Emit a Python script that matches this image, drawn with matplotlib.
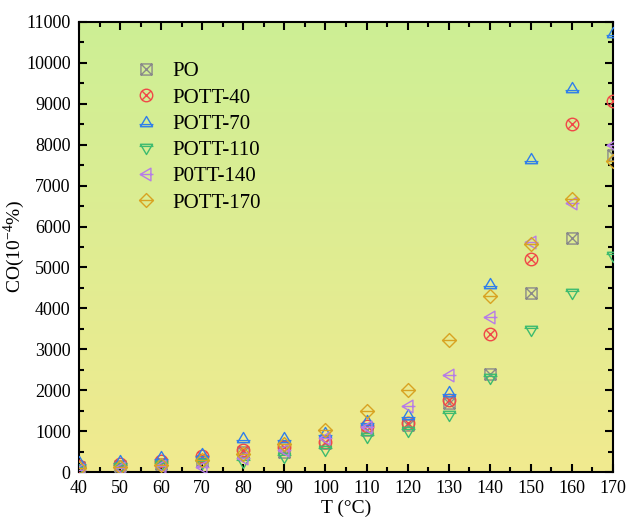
import numpy as np
import matplotlib
matplotlib.use("Agg")
import matplotlib.pyplot as plt
from matplotlib.path import Path
from matplotlib.colors import LinearSegmentedColormap
from matplotlib.ticker import MultipleLocator

# Temperature (°C) and CO concentration (10^-4 %)
temps = [40, 50, 60, 70, 80, 90, 100, 110, 120, 130, 140, 150, 160, 170]
co_po = [120, 150, 200, 280, 480, 500, 700, 1030, 1150, 1690, 2400, 4380, 5710, 7750]
co_pott40 = [150, 200, 280, 380, 540, 620, 740, 1130, 1200, 1760, 3380, 5210, 8510, 9060]
co_pott70 = [240, 270, 360, 450, 830, 830, 950, 1250, 1400, 1960, 4590, 7650, 9390, 10730]
co_pott110 = [80, 120, 180, 220, 240, 370, 540, 860, 1000, 1400, 2300, 3480, 4380, 5280]
co_pott140 = [60, 100, 150, 120, 340, 530, 820, 1100, 1620, 2360, 3800, 5620, 6580, 8000]
co_pott170 = [100, 120, 170, 290, 440, 680, 1030, 1490, 2000, 3220, 4310, 5570, 6680, 7600]

labels = ["PO", "POTT-40", "POTT-70", "POTT-110", "P0TT-140", "POTT-170"]
series = [co_po, co_pott40, co_pott70, co_pott110, co_pott140, co_pott170]
colors = ["#8a8a8a", "#f04848", "#2f7fea", "#3dbb6f", "#b77ce8", "#d8a322"]


def seg_path(polys, lines):
    verts, codes = [], []
    for poly in polys:
        verts += list(poly) + [poly[0]]
        codes += [Path.MOVETO] + [Path.LINETO] * (len(poly) - 1) + [Path.CLOSEPOLY]
    for a, b in lines:
        verts += [a, b]
        codes += [Path.MOVETO, Path.LINETO]
    return Path(verts, codes)


sq_x = seg_path([[(-0.8, -0.8), (0.8, -0.8), (0.8, 0.8), (-0.8, 0.8)]],
                [((-0.8, -0.8), (0.8, 0.8)), ((-0.8, 0.8), (0.8, -0.8))])
circ = Path.unit_circle()
circ_x = Path.make_compound_path(
    circ, seg_path([], [((-0.707, -0.707), (0.707, 0.707)), ((-0.707, 0.707), (0.707, -0.707))]))
tri_up = seg_path([[(0, 1), (-1, -0.7), (1, -0.7)]], [((-1.15, -0.35), (1.15, -0.35))])
tri_down = seg_path([[(0, -1), (-1, 0.7), (1, 0.7)]], [((-1.15, 0.35), (1.15, 0.35))])
tri_left = seg_path([[(-1, 0), (0.7, 1), (0.7, -1)]], [((-1, 0), (1.1, 0))])
diamond = seg_path([[(0, 1), (1, 0), (0, -1), (-1, 0)]], [((-1, 0), (1, 0))])
markers = [sq_x, circ_x, tri_up, tri_down, tri_left, diamond]
sizes = [8, 9, 10, 10, 10, 10]

plt.rcParams["font.family"] = ["Liberation Serif", "DejaVu Serif"]
plt.rcParams["mathtext.fontset"] = "stix"

fig = plt.figure(figsize=(6.31, 5.21), dpi=100)
ax = fig.add_axes([0.1252, 0.094, 0.8463, 0.8638])

# vertical gradient background
grad = np.linspace(0, 1, 256).reshape(-1, 1)
cmap = LinearSegmentedColormap.from_list("bg", ["#f1ea8f", "#cdef95"])
ax.imshow(grad, cmap=cmap, origin="lower", aspect="auto",
          extent=[0, 1, 0, 1], transform=ax.transAxes, zorder=0)

for vals, lab, col, mk, ms in zip(series, labels, colors, markers, sizes):
    ax.plot(temps, vals, linestyle="none", marker=mk, markersize=ms,
            markerfacecolor="none", markeredgecolor=col, markeredgewidth=1.0,
            label=lab, zorder=3)

ax.set_xlim(40, 170)
ax.set_ylim(0, 11000)
ax.xaxis.set_major_locator(MultipleLocator(10))
ax.xaxis.set_minor_locator(MultipleLocator(5))
ax.yaxis.set_major_locator(MultipleLocator(1000))
ax.yaxis.set_minor_locator(MultipleLocator(500))
ax.tick_params(which="both", direction="in", top=True, right=True,
               labelsize=13, width=1.5, colors="black", pad=6)
ax.tick_params(which="major", length=6)
ax.tick_params(which="minor", length=3.5)
for sp in ax.spines.values():
    sp.set_linewidth(1.5)

ax.set_xlabel("T (°C)", fontsize=14, labelpad=2)
ax.set_ylabel(r"CO(10$^{\mathregular{-4}}$%)", fontsize=14, labelpad=-1)

leg = ax.legend(loc="upper left", bbox_to_anchor=(0.07, 0.953), frameon=False,
                fontsize=15, handletextpad=0.8, labelspacing=0.32,
                handlelength=1.0, numpoints=1)

fig.savefig("out.png", dpi=100)
